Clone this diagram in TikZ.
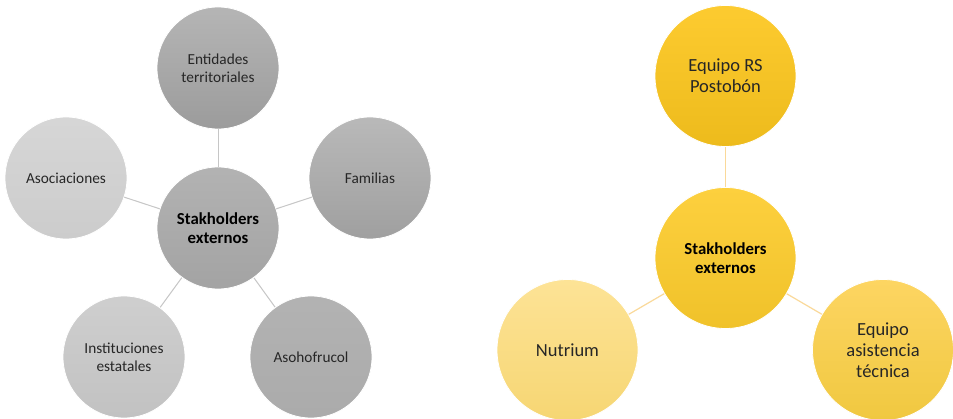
\documentclass[tikz,border=0pt]{standalone}
\usepackage{fontspec}
\setmainfont{Carlito}
\begin{document}
\begin{tikzpicture}[x=1pt,y=-1pt,
  gcirc/.style={circle,minimum size=122pt,inner sep=0pt,draw=white,line width=0.8pt,
    align=center,text=black!85,font=\fontsize{15.3}{18}\selectfont},
  ycirc/.style={circle,minimum size=141pt,inner sep=0pt,draw=white,line width=0.8pt,
    align=center,text=black!85,font=\fontsize{18.5}{21}\selectfont},
  hub/.style={font=\fontsize{16.8}{19.5}\selectfont\bfseries,text=black},
  glink/.style={draw=gray!45,line width=1pt}]
\useasboundingbox[fill=white] (0,0) rectangle (953,419);
% left diagram
\node[gcirc,hub,top color=gray!60,bottom color=gray!72] (lc) at (218,228) {Stakholders\\externos};
\node[gcirc,top color=gray!58,bottom color=gray!78] (lt) at (218,68) {Entidades\\territoriales};
\node[gcirc,top color=gray!55,bottom color=gray!75] (lr) at (370,178) {Familias};
\node[gcirc,top color=gray!32,bottom color=gray!40] (ll) at (66,178) {Asociaciones};
\node[gcirc,top color=gray!38,bottom color=gray!48] (lbl) at (124,357) {Instituciones\\estatales};
\node[gcirc,top color=gray!60,bottom color=gray!66] (lbr) at (311,357) {Asohofrucol};
\draw[glink] (lc) -- (lt);
\draw[glink] (lc) -- (lr);
\draw[glink] (lc) -- (ll);
\draw[glink] (lc) -- (lbl);
\draw[glink] (lc) -- (lbr);
% right diagram
\definecolor{yA}{HTML}{FDCB30}
\definecolor{yB}{HTML}{EDBB1C}
\definecolor{yC}{HTML}{FDD03E}
\definecolor{yD}{HTML}{F0C22A}
\definecolor{yE}{HTML}{FDE396}
\definecolor{yF}{HTML}{F6D673}
\definecolor{yG}{HTML}{FDD562}
\definecolor{yH}{HTML}{F0C840}
\definecolor{yL}{HTML}{FAD99A}
\node[ycirc,hub,top color=yC,bottom color=yD] (rc) at (725.5,258) {Stakholders\\externos};
\node[ycirc,top color=yA,bottom color=yB] (rt) at (725.5,76) {Equipo RS\\Postobón};
\node[ycirc,top color=yE,bottom color=yF] (rl) at (567.5,350) {Nutrium};
\node[ycirc,top color=yG,bottom color=yH] (rr) at (883,350) {Equipo\\asistencia\\técnica};
\draw[draw=yL,line width=1.2pt] (rc) -- (rt);
\draw[draw=yL,line width=1.2pt] (rc) -- (rl);
\draw[draw=yL,line width=1.2pt] (rc) -- (rr);
\end{tikzpicture}
\end{document}
